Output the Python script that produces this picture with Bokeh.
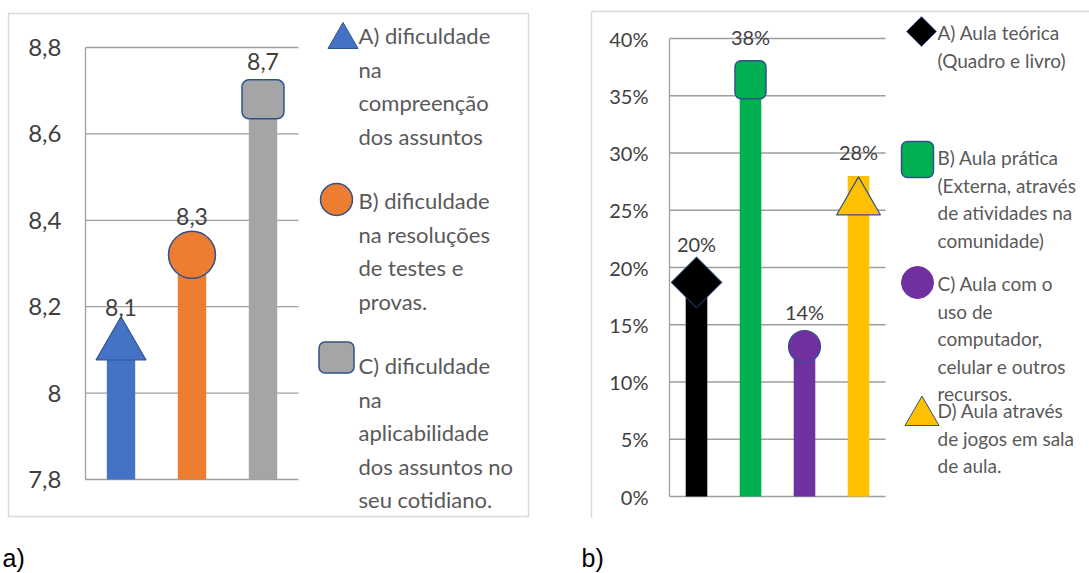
import numpy as np
from bokeh.plotting import figure
from bokeh.layouts import row
from bokeh.models import Range1d, LinearAxis, FixedTicker, CustomJSTickFormatter
from bokeh.core.properties import value
from bokeh.embed import file_html
from bokeh.resources import INLINE

# ---------------- data ----------------
cats_a = ["A", "B", "C"]
vals_a = [8.1, 8.3, 8.7]            # bar tops
marks_a = [8.11, 8.32, 8.68]        # marker centres
yticks_a = [7.8, 8.0, 8.2, 8.4, 8.6, 8.8]
legend_a = [
    ["A) dificuldade", "na", "compreenção", "dos assuntos"],
    ["B) dificuldade", "na resoluções", "de testes e", "provas."],
    ["C) dificuldade", "na", "aplicabilidade", "dos assuntos no", "seu cotidiano."],
]

cats_b = ["A", "B", "C", "D"]
vals_b = [0.20, 0.38, 0.14, 0.28]
marks_b = [0.187, 0.364, 0.131, 0.257]
yticks_b = [0.0, 0.05, 0.10, 0.15, 0.20, 0.25, 0.30, 0.35, 0.40]
legend_b = [
    ["A) Aula teórica", "(Quadro e livro)"],
    ["B) Aula prática", "(Externa, através", "de atividades na", "comunidade)"],
    ["C) Aula com o", "uso de", "computador,", "celular e outros", "recursos."],
    ["D) Aula através", "de jogos em sala", "de aula."],
]

labels_a = [f"{v:.1f}".replace(".", ",") for v in vals_a]
labels_b = [f"{round(v * 100)}%" for v in vals_b]

# ---------------- styles / layout ----------------
H = 573
TOP = 0
GRID = "#9E9E9E"
OUTL = "#2F528F"
FONT = "Lato"
cols_a = ["#4472C4", "#ED7D31", "#A5A5A5"]
cols_b = ["#000000", "#00B050", "#7030A0", "#FFC000"]


class Mapper:
    def __init__(self, left_img, width, x0_img, x0_val, xppu, y0_img, y0_val, yppu):
        self.left, self.width = left_img, width
        self.xppu, self.yppu = xppu, yppu
        self.xs = x0_val - (x0_img - left_img) / xppu
        self.xe = self.xs + width / xppu
        self.ye = y0_val + (y0_img - TOP) / yppu
        self.ys = self.ye - H / yppu

    def X(self, ix):
        return self.xs + (ix - self.left) / self.xppu

    def Y(self, iy):
        return self.ye - (iy - TOP) / self.yppu


def make_fig(m):
    p = figure(width=m.width, height=H,
               x_range=Range1d(m.xs, m.xe), y_range=Range1d(m.ys, m.ye),
               x_axis_type=None, y_axis_type=None,
               toolbar_location=None, output_backend="svg", min_border=0,
               outline_line_color=None, background_fill_color="white",
               border_fill_color="white")
    p.grid.visible = False
    return p


def add_axis(p, ticks, code, font_size, standoff):
    ax = LinearAxis(ticker=FixedTicker(ticks=ticks),
                    formatter=CustomJSTickFormatter(code=code),
                    fixed_location=-0.5, bounds=(ticks[0], ticks[-1]))
    ax.axis_line_color = GRID
    ax.axis_line_width = 1.3
    ax.major_tick_line_color = None
    ax.minor_tick_line_color = None
    ax.major_tick_out = 0
    ax.major_tick_in = 0
    ax.major_label_standoff = standoff
    ax.major_label_text_font = FONT
    ax.major_label_text_font_size = font_size
    ax.major_label_text_color = "#404040"
    p.add_layout(ax, "left")


def add_legend_text(p, m, groups, x_img, first_y, spacing, size):
    xs, ys, ts = [], [], []
    for g, y0 in zip(groups, first_y):
        for k, line in enumerate(g):
            xs.append(m.X(x_img))
            ys.append(m.Y(y0 + k * spacing))
            ts.append(line)
    p.text(x=xs, y=ys, text=ts, text_font=value(FONT), text_font_size=size,
           text_color="#595959", text_align="left", text_baseline="middle")


# ================= panel a =================
ma = Mapper(0, 560, 85, -0.5, 71.0, 47, yticks_a[-1], 432.0)
pa = make_fig(ma)

pa.quad(left=ma.X(8), right=ma.X(528), top=ma.Y(13), bottom=ma.Y(516),
        fill_color=None, line_color="#D9D9D9", line_width=1.5)
pa.segment(x0=-0.5, x1=len(cats_a) - 0.5, y0=yticks_a, y1=yticks_a,
           line_color=GRID, line_width=1.3)
add_axis(pa, yticks_a,
         "var s = (Math.round(tick*10)/10).toString(); return s.replace('.', ',');",
         "24px", 24)

xa = list(range(len(cats_a)))
pa.vbar(x=xa, top=vals_a, bottom=yticks_a[0], width=0.4, fill_color=cols_a,
        line_color=None)
pa.scatter(x=[xa[0]], y=[marks_a[0]], marker="triangle", size=50,
           fill_color=cols_a[0], line_color=OUTL, line_width=1.2)
pa.scatter(x=[xa[1]], y=[marks_a[1]], marker="circle", size=47,
           fill_color=cols_a[1], line_color=OUTL, line_width=1.5)
pa.rect(x=[xa[2]], y=[marks_a[2]], width=42, height=39, width_units="screen",
        height_units="screen", border_radius=7, fill_color=cols_a[2],
        line_color=OUTL, line_width=1.5)
pa.text(x=xa, y=marks_a, text=labels_a, y_offset=-38, text_align="center",
        text_baseline="middle", text_font=value(FONT), text_font_size="23px",
        text_color="#404040")

# legend a
pa.scatter(x=[ma.X(342.5)], y=[ma.Y(39.3)], marker="triangle", size=30,
           fill_color=cols_a[0], line_color=OUTL, line_width=1)
pa.scatter(x=[ma.X(336)], y=[ma.Y(199)], marker="circle", size=32,
           fill_color=cols_a[1], line_color=OUTL, line_width=1.5)
pa.rect(x=[ma.X(336)], y=[ma.Y(357)], width=35, height=31, width_units="screen",
        height_units="screen", border_radius=6, fill_color=cols_a[2],
        line_color=OUTL, line_width=1.5)
add_legend_text(pa, ma, legend_a, 358, [35, 200, 365], 33.5, "22px")

pa.text(x=[ma.X(2)], y=[ma.Y(557)], text=["a)"], text_font=value("Liberation Sans"),
        text_font_size="25px", text_color="#000000", text_align="left",
        text_baseline="alphabetic")

# ================= panel b =================
mb = Mapper(560, 529, 669, -0.5, 54.0, 38, yticks_b[-1], 1145.0)
pb = make_fig(mb)

pb.segment(x0=[mb.X(591), mb.X(591)], x1=[mb.X(1095), mb.X(591)],
           y0=[mb.Y(11), mb.Y(11)], y1=[mb.Y(11), mb.Y(517)],
           line_color="#D9D9D9", line_width=1.5)
pb.segment(x0=-0.5, x1=len(cats_b) - 0.5, y0=yticks_b, y1=yticks_b,
           line_color=GRID, line_width=1.3)
add_axis(pb, yticks_b, "return Math.round(tick*100) + '%';", "20px", 21)

xb = list(range(len(cats_b)))
pb.vbar(x=xb, top=vals_b, bottom=0, width=0.4, fill_color=cols_b, line_color=None)
pb.scatter(x=[xb[0]], y=[marks_b[0]], marker="square", angle=np.pi / 4, size=36,
           fill_color=cols_b[0], line_color=OUTL, line_width=1)
pb.rect(x=[xb[1]], y=[marks_b[1]], width=31, height=38, width_units="screen",
        height_units="screen", border_radius=6, fill_color=cols_b[1],
        line_color=OUTL, line_width=1.5)
pb.scatter(x=[xb[2]], y=[marks_b[2]], marker="circle", size=32,
           fill_color=cols_b[2], line_color=OUTL, line_width=1.2)
pb.scatter(x=[xb[3]], y=[marks_b[3]], marker="triangle", size=44,
           fill_color=cols_b[3], line_color=OUTL, line_width=1.2)
pb.text(x=xb, y=vals_b, text=labels_b, y_offset=-24, text_align="center",
        text_baseline="middle", text_font=value(FONT), text_font_size="20px",
        text_color="#404040")

# legend b
pb.scatter(x=[mb.X(921)], y=[mb.Y(31)], marker="square", angle=np.pi / 4, size=21,
           fill_color=cols_b[0], line_color=OUTL, line_width=1)
pb.rect(x=[mb.X(917)], y=[mb.Y(159)], width=32, height=36, width_units="screen",
        height_units="screen", border_radius=6, fill_color=cols_b[1],
        line_color=OUTL, line_width=1.5)
pb.scatter(x=[mb.X(917)], y=[mb.Y(282)], marker="circle", size=32,
           fill_color=cols_b[2], line_color=cols_b[2], line_width=1)
pb.scatter(x=[mb.X(921.5)], y=[mb.Y(415.2)], marker="triangle", size=34,
           fill_color=cols_b[3], line_color=OUTL, line_width=1)
add_legend_text(pb, mb, legend_b, 937, [32, 157, 283, 410], 27.5, "19px")

pb.text(x=[mb.X(581)], y=[mb.Y(557)], text=["b)"], text_font=value("Liberation Sans"),
        text_font_size="25px", text_color="#000000", text_align="left",
        text_baseline="alphabetic")

layout = row(pa, pb, spacing=0)
open("out.html", "w").write(file_html(layout, INLINE))
